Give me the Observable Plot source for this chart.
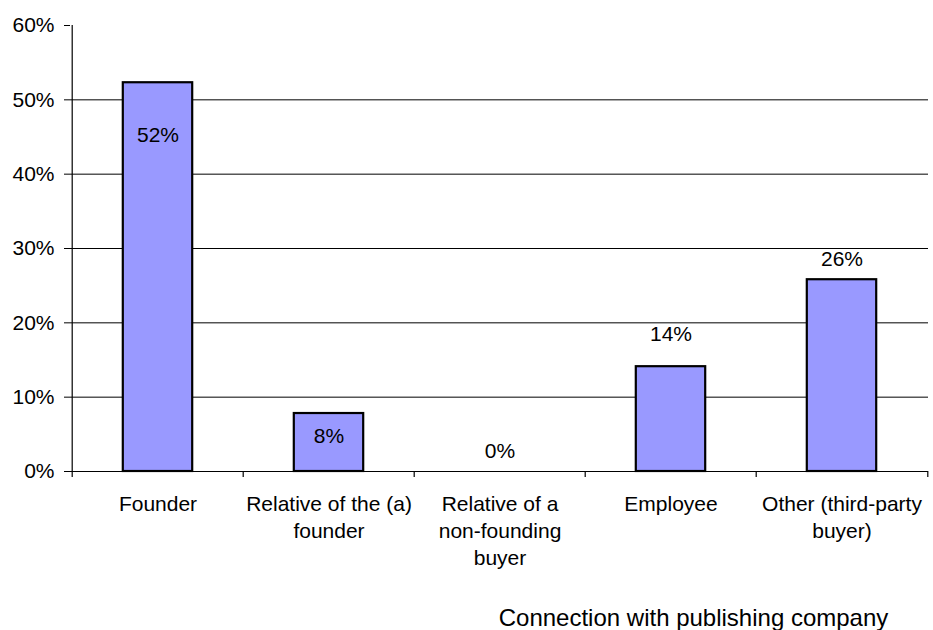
<!DOCTYPE html>
<html>
<head>
<meta charset="utf-8">
<script src="https://cdn.jsdelivr.net/npm/d3@7"></script>
<script src="https://cdn.jsdelivr.net/npm/@observablehq/plot@0.6"></script>
<style>
  html, body { margin: 0; padding: 0; background: #fff; }
  #chart svg { display: block; }
</style>
</head>
<body>
<div id="chart"></div>
<script>
const categories = ["Founder", "Relative of the (a) founder", "Relative of a non-founding buyer", "Employee", "Other (third-party buyer)"];
const tickLabels = ["Founder", "Relative of the (a)\nfounder", "Relative of a\nnon-founding\nbuyer", "Employee", "Other (third-party\nbuyer)"];
const values = [52.3, 7.8, 0, 14.1, 25.8];
const valueLabels = ["52%", "8%", "0%", "14%", "26%"];
const labelY = [45.2, 4.7, 2.7, 18.4, 28.5];
const yTicks = [0, 10, 20, 30, 40, 50, 60];
const gridTicks = [10, 20, 30, 40, 50];
const xTitle = "Connection with publishing company";

const data = categories.map((c, i) => ({cat: c, tick: tickLabels[i], value: values[i], label: valueLabels[i], ly: labelY[i]}));

const W = 933, H = 630, ML = 70, MR = 5, MT = 25, MB = 159;
const bw = (W - ML - MR) / categories.length;
const font = "Liberation Sans, Arial, sans-serif";

const plot = Plot.plot({
  width: W, height: H,
  marginLeft: ML, marginRight: MR, marginTop: MT, marginBottom: MB,
  style: {fontFamily: font, fontSize: "21px", color: "#000", background: "#fff"},
  x: {domain: categories, padding: 0, axis: null},
  y: {domain: [0, 60], axis: null},
  marks: [
    Plot.ruleY(gridTicks, {stroke: "#000", strokeWidth: 1}),
    Plot.barY(data, {x: "cat", y: "value", fill: "#9999ff", stroke: "#000", strokeWidth: 2.2, insetLeft: (bw - 70) / 2, insetRight: (bw - 70) / 2}),
    Plot.ruleY([0], {stroke: "#000", strokeWidth: 1.2}),
    Plot.ruleX([0], {x: () => categories[0], dx: -bw / 2, y1: 0, y2: 60, stroke: "#000", strokeWidth: 1.2}),
    Plot.axisY({ticks: yTicks, tickFormat: d => d + "%", tickSize: 6, tickPadding: 10, fontSize: 21, label: null}),
    Plot.ruleX(categories, {x: d => d, dx: -bw / 2, y: 0, insetTop: 0, insetBottom: -6, stroke: "#000", strokeWidth: 1.2}),
    Plot.ruleX([categories[categories.length - 1]], {x: d => d, dx: bw / 2, y: 0, insetBottom: -6, stroke: "#000", strokeWidth: 1.2}),
    Plot.text(data, {x: "cat", y: "ly", text: "label", fontSize: 21, fill: "#000"}),
    Plot.text(data, {x: "cat", text: "tick", frameAnchor: "bottom", lineAnchor: "top", dy: 20, lineHeight: 1.3, fontSize: 21, fill: "#000"}),
    Plot.text([xTitle], {frameAnchor: "bottom", lineAnchor: "middle", text: d => d, dx: 194, dy: 147, fontSize: 24, fill: "#000"})
  ]
});
document.getElementById("chart").appendChild(plot);
</script>
</body>
</html>
